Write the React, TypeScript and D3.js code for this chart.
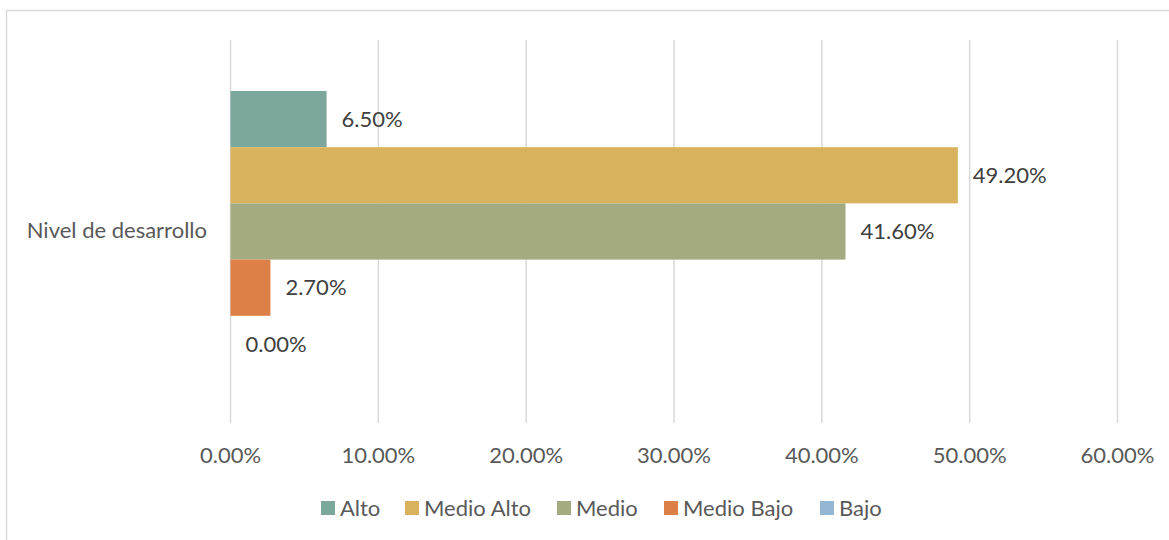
import React from "react";
import * as d3 from "d3";

const categories = ["Nivel de desarrollo"];
const seriesNames = ["Alto", "Medio Alto", "Medio", "Medio Bajo", "Bajo"];
const seriesValues = [6.5, 49.2, 41.6, 2.7, 0.0];
const seriesColors = ["#7BA79D", "#D8B25C", "#A5AB81", "#DD8047", "#94B6D2"];
const xTicks = [0, 10, 20, 30, 40, 50, 60];

const W = 1169;
const H = 540;
const FONT = "Lato, 'Open Sans', sans-serif";
const FS = 22;

export default function App() {
  const x = d3.scaleLinear().domain([0, 60]).range([230.5, 1117.5]);
  const band = d3.scaleBand().domain(categories).range([40, 423]).paddingInner(0).paddingOuter(0);
  const groupPad = 51;
  const inner = d3
    .scaleBand()
    .domain(seriesNames)
    .range([groupPad, band.bandwidth() - groupPad])
    .padding(0);

  const legendX = [321, 405, 557, 664, 820];
  const fmt = (v: number) => v.toFixed(2) + "%";

  return (
    <svg
      width={W}
      height={H}
      style={{ position: "absolute", left: 0, top: 0, background: "#fff" }}
      fontFamily={FONT}
    >
      <rect x={6.5} y={10.5} width={1300} height={700} fill="#fff" stroke="#D9D9D9" strokeWidth={1.5} />
      {xTicks.map((t) => (
        <line key={t} x1={x(t)} x2={x(t)} y1={40} y2={423} stroke="#D9D9D9" strokeWidth={1.5} />
      ))}
      {categories.map((c) => (
        <g key={c} transform={`translate(0,${band(c)})`}>
          {seriesNames.map((s, i) => {
            const y0 = inner(s)!;
            const h = inner.bandwidth();
            const v = seriesValues[i];
            return (
              <g key={s}>
                <rect x={x(0)} y={y0} width={x(v) - x(0)} height={h} fill={seriesColors[i]} />
                <text
                  x={x(v) + 15}
                  y={y0 + h / 2}
                  dy="0.35em"
                  fontSize={FS}
                  fill="#404040"
                >
                  {fmt(v)}
                </text>
              </g>
            );
          })}
          <text x={207} y={band.bandwidth() / 2 - 1} dy="0.35em" textAnchor="end" fontSize={FS} fill="#595959">
            {c}
          </text>
        </g>
      ))}
      {xTicks.map((t) => (
        <text key={t} x={x(t)} y={455} dy="0.35em" textAnchor="middle" fontSize={FS} fill="#595959">
          {fmt(t)}
        </text>
      ))}
      {seriesNames.map((s, i) => (
        <g key={s} transform={`translate(${legendX[i]},508)`}>
          <rect x={0} y={-7} width={14} height={14} fill={seriesColors[i]} />
          <text x={19} y={0} dy="0.35em" fontSize={FS} fill="#595959">
            {s}
          </text>
        </g>
      ))}
    </svg>
  );
}
